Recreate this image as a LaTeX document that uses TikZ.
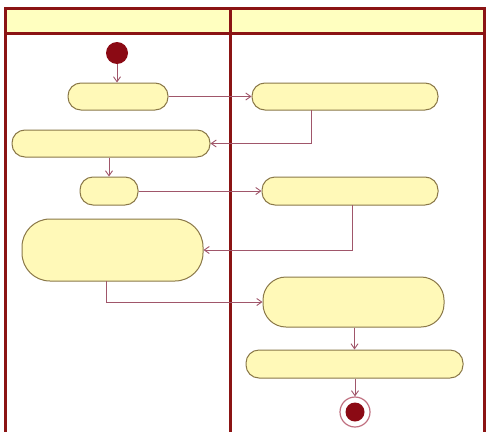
\documentclass[tikz,border=0pt]{standalone}
\usetikzlibrary{arrows.meta}
\definecolor{frame}{HTML}{8B1414}
\definecolor{hdr}{HTML}{FFFFC0}
\definecolor{boxfill}{HTML}{FFF9B8}
\definecolor{boxline}{HTML}{8A7848}
\definecolor{arr}{HTML}{A0566A}
\definecolor{startc}{HTML}{8B0A14}
\definecolor{ring}{HTML}{C07080}
\tikzset{
  act/.style={draw=boxline, fill=boxfill, line width=1pt, inner sep=0pt},
  flow/.style={draw=arr, line width=0.9pt, -{Straight Barb[length=5pt,width=7pt]}},
}
\begin{document}
\begin{tikzpicture}[x=1pt,y=-1pt]
\useasboundingbox (0,0) rectangle (486,431);
\fill[white] (0,0) rectangle (486,431);
% header
\fill[hdr] (5,8) rectangle (484,33);
\draw[frame, line width=3pt] (5,440) -- (5,8) -- (484,8) -- (484,440);
\draw[frame, line width=3pt] (5,33) -- (484,33);
\draw[frame, line width=3pt] (230,8) -- (230,440);
% nodes
\node[circle, fill=startc, minimum size=22pt, inner sep=0pt] (start) at (117,53) {};
\node[act, minimum width=100pt, minimum height=27pt, rounded corners=13pt] (b1) at (118,96.5) {};
\node[act, minimum width=186pt, minimum height=27pt, rounded corners=13pt] (b2) at (345,96.5) {};
\node[act, minimum width=198pt, minimum height=27pt, rounded corners=13pt] (b3) at (111,143.5) {};
\node[act, minimum width=58pt, minimum height=28pt, rounded corners=13pt] (b4) at (109,191) {};
\node[act, minimum width=176pt, minimum height=28pt, rounded corners=13pt] (b5) at (350,191) {};
\node[act, minimum width=181pt, minimum height=62pt, rounded corners=28pt] (b6) at (112.5,250) {};
\node[act, minimum width=181pt, minimum height=50pt, rounded corners=23pt] (b7) at (353.5,302) {};
\node[act, minimum width=217pt, minimum height=28pt, rounded corners=13pt] (b8) at (354.5,364) {};
\node[circle, draw=ring, fill=white, line width=1.2pt, minimum size=30pt, inner sep=0pt] (end) at (355,412) {};
\node[circle, fill=startc, minimum size=19pt, inner sep=0pt] (endin) at (end.center) {};
% coordinates
\coordinate (c2) at (311,110);
\coordinate (c2b) at (311,143.5);
\coordinate (c5) at (352,205);
\coordinate (c5b) at (352,250);
\coordinate (c6) at (106,281);
\coordinate (c6b) at (106,302);
% connectors
\draw[flow] (start) -- (start |- b1.north);
\draw[flow] (b1.east) -- (b2.west);
\draw[flow] (c2) -- (c2b) -- (b3.east);
\draw[flow] (b3.south -| b4) -- (b4.north);
\draw[flow] (b4.east) -- (b5.west);
\draw[flow] (c5) -- (c5b) -- (b6.east);
\draw[flow] (c6) -- (c6b) -- (b7.west);
\draw[flow] (b7.south -| b8) -- (b8.north);
\draw[flow] (b8.south -| end) -- (end.north);
\end{tikzpicture}
\end{document}
